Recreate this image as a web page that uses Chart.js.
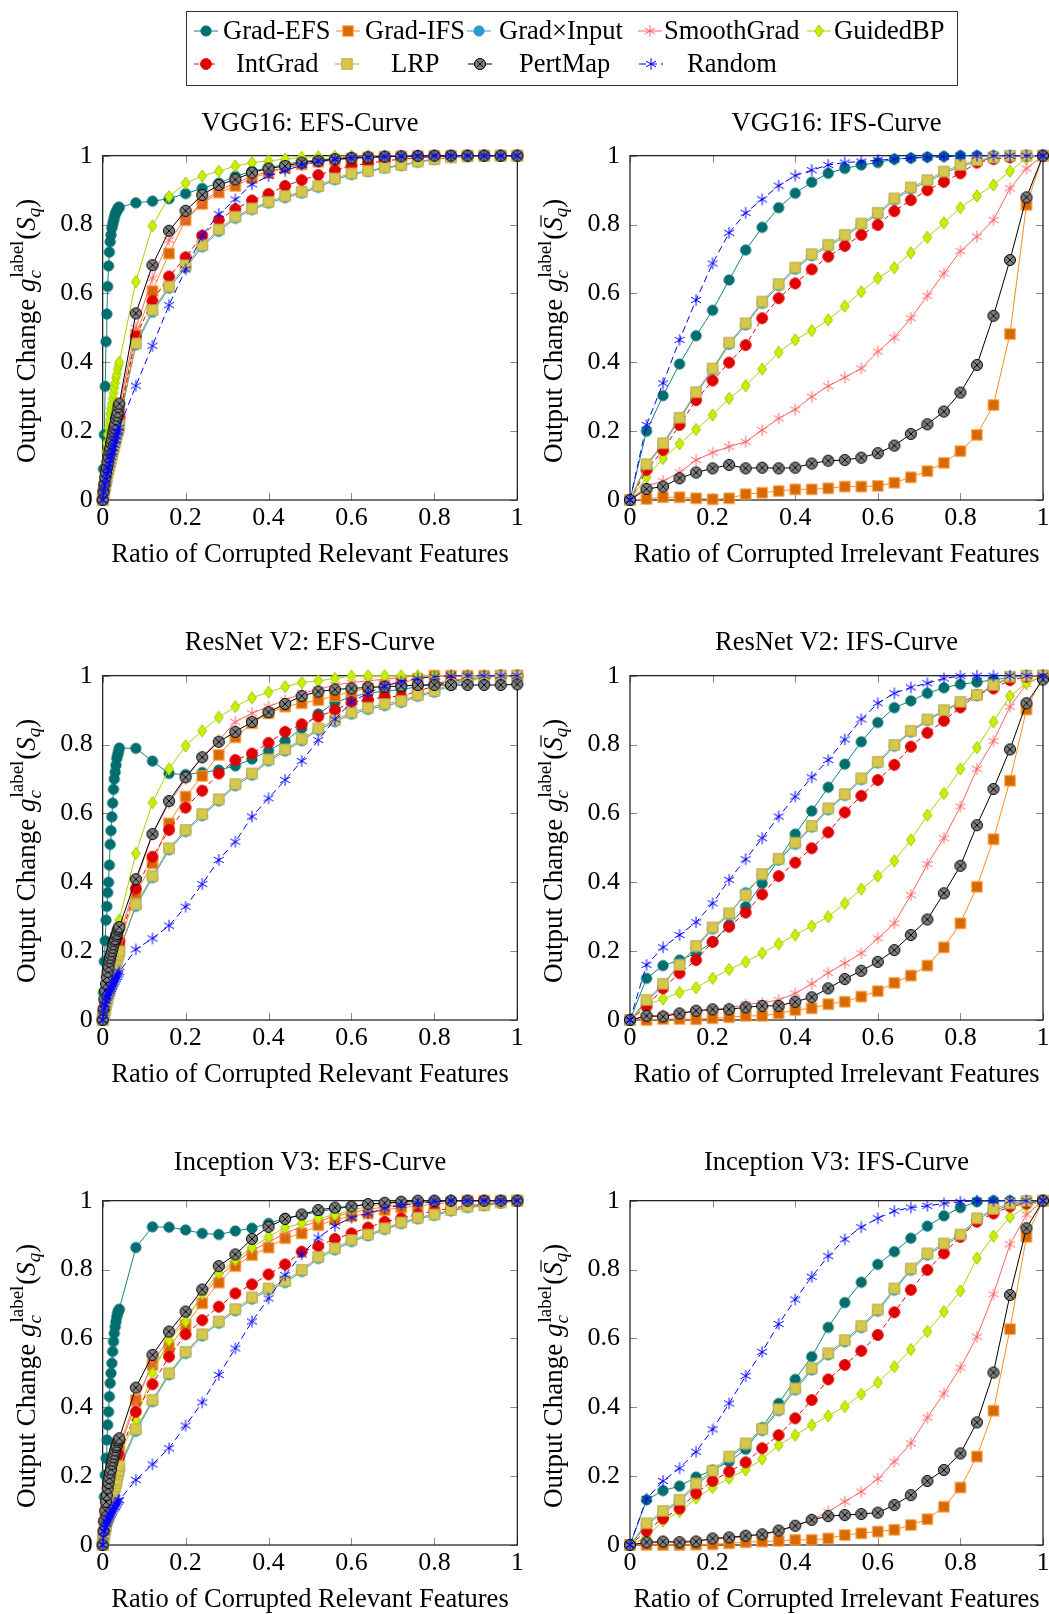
<!DOCTYPE html>
<html>
<head>
<meta charset="utf-8">
<script src="https://cdn.jsdelivr.net/npm/chart.js@4.4.1/dist/chart.umd.min.js"></script>
<style>
  html, body { margin: 0; padding: 0; background: #fff; }
  body { width: 1049px; height: 1614px; position: relative; overflow: hidden; }
  canvas { position: absolute; }
</style>
</head>
<body>
<canvas id="legend" width="1049" height="95" style="left:0;top:0"></canvas>
<script>
// ---- data -------------------------------------------------------------
const methods = ["Grad-EFS", "Grad-IFS", "Grad\u00d7Input", "SmoothGrad", "GuidedBP", "IntGrad", "LRP", "PertMap", "Random"];
const tickValues = [0, 0.2, 0.4, 0.6, 0.8, 1];

// EFS curves: fine steps up to 0.04, then steps of 0.04
const xEFS = [0, 0.002, 0.004, 0.006, 0.008, 0.01, 0.012, 0.014, 0.016, 0.018, 0.02, 0.022, 0.024, 0.026, 0.028, 0.03, 0.032, 0.034, 0.036, 0.038, 0.04,
  0.08, 0.12, 0.16, 0.2, 0.24, 0.28, 0.32, 0.36, 0.4, 0.44, 0.48, 0.52, 0.56, 0.6, 0.64, 0.68, 0.72, 0.76, 0.8, 0.84, 0.88, 0.92, 0.96, 1];
// IFS curves: steps of 0.04
const xIFS = [0, 0.04, 0.08, 0.12, 0.16, 0.2, 0.24, 0.28, 0.32, 0.36, 0.4, 0.44, 0.48, 0.52, 0.56, 0.6, 0.64, 0.68, 0.72, 0.76, 0.8, 0.84, 0.88, 0.92, 0.96, 1];

// VGG16 EFS
const vggEfsGradEfs = [0, 0.09, 0.19, 0.33, 0.46, 0.54, 0.62, 0.68, 0.72, 0.75, 0.77, 0.79, 0.8, 0.81, 0.82, 0.83, 0.835, 0.84, 0.845, 0.85, 0.85,
  0.863, 0.868, 0.875, 0.89, 0.905, 0.92, 0.94, 0.955, 0.965, 0.975, 0.983, 0.988, 0.992, 0.995, 0.997, 0.998, 0.999, 1, 1, 1, 1, 1, 1, 1];
const vggEfsGradIfs = [0, 0.02, 0.04, 0.055, 0.07, 0.085, 0.1, 0.11, 0.12, 0.135, 0.145, 0.155, 0.165, 0.175, 0.185, 0.195, 0.205, 0.215, 0.225, 0.24, 0.25,
  0.48, 0.607, 0.716, 0.813, 0.86, 0.893, 0.912, 0.935, 0.95, 0.965, 0.975, 0.982, 0.988, 0.992, 0.995, 0.997, 0.998, 0.999, 1, 1, 1, 1, 1, 1];
const vggEfsGradInput = [0, 0.015, 0.03, 0.045, 0.06, 0.07, 0.085, 0.095, 0.105, 0.115, 0.125, 0.135, 0.145, 0.155, 0.165, 0.175, 0.185, 0.195, 0.205, 0.22, 0.23,
  0.45, 0.545, 0.615, 0.675, 0.735, 0.78, 0.818, 0.843, 0.862, 0.878, 0.891, 0.908, 0.93, 0.945, 0.954, 0.964, 0.971, 0.981, 0.989, 0.995, 0.998, 1, 1, 1];
const vggEfsSmooth = [0, 0.02, 0.04, 0.06, 0.075, 0.09, 0.105, 0.12, 0.13, 0.145, 0.155, 0.17, 0.18, 0.19, 0.2, 0.21, 0.225, 0.235, 0.245, 0.26, 0.27,
  0.5, 0.644, 0.755, 0.815, 0.865, 0.9, 0.92, 0.94, 0.955, 0.965, 0.975, 0.982, 0.988, 0.992, 0.995, 0.997, 0.998, 0.999, 1, 1, 1, 1, 1, 1];
const vggEfsGuided = [0, 0.04, 0.08, 0.11, 0.14, 0.165, 0.19, 0.21, 0.23, 0.25, 0.265, 0.28, 0.295, 0.31, 0.325, 0.34, 0.355, 0.365, 0.38, 0.39, 0.4,
  0.634, 0.796, 0.881, 0.92, 0.941, 0.955, 0.97, 0.98, 0.985, 0.99, 0.995, 0.997, 0.998, 0.999, 1, 1, 1, 1, 1, 1, 1, 1, 1, 1];
const vggEfsIntGrad = [0, 0.02, 0.035, 0.05, 0.065, 0.08, 0.095, 0.105, 0.115, 0.13, 0.14, 0.15, 0.16, 0.17, 0.18, 0.19, 0.2, 0.21, 0.22, 0.23, 0.24,
  0.474, 0.578, 0.649, 0.705, 0.768, 0.813, 0.845, 0.87, 0.889, 0.912, 0.929, 0.944, 0.958, 0.97, 0.978, 0.985, 0.99, 0.994, 0.997, 0.999, 1, 1, 1, 1];
const vggEfsLrp = [0, 0.015, 0.03, 0.04, 0.055, 0.065, 0.08, 0.09, 0.1, 0.11, 0.12, 0.13, 0.14, 0.15, 0.16, 0.17, 0.18, 0.19, 0.2, 0.21, 0.22,
  0.455, 0.552, 0.62, 0.682, 0.74, 0.786, 0.823, 0.847, 0.866, 0.883, 0.895, 0.912, 0.934, 0.949, 0.956, 0.966, 0.973, 0.983, 0.99, 0.995, 0.998, 1, 1, 1];
const vggEfsPertMap = [0, 0.025, 0.045, 0.065, 0.08, 0.095, 0.11, 0.125, 0.14, 0.15, 0.165, 0.175, 0.19, 0.2, 0.21, 0.22, 0.235, 0.245, 0.255, 0.27, 0.28,
  0.542, 0.682, 0.782, 0.84, 0.886, 0.915, 0.931, 0.951, 0.963, 0.97, 0.98, 0.985, 0.99, 0.993, 0.995, 0.997, 0.998, 0.999, 1, 1, 1, 1, 1, 1];
const vggEfsRandom = [0, 0.02, 0.035, 0.05, 0.06, 0.075, 0.085, 0.095, 0.105, 0.115, 0.125, 0.135, 0.14, 0.15, 0.16, 0.17, 0.175, 0.185, 0.195, 0.2, 0.21,
  0.332, 0.448, 0.566, 0.67, 0.768, 0.83, 0.873, 0.917, 0.941, 0.956, 0.973, 0.983, 0.99, 0.995, 0.997, 0.998, 0.999, 1, 1, 1, 1, 1, 1, 1];

// VGG16 IFS
const vggIfsGradEfs = [0, 0.2, 0.303, 0.395, 0.477, 0.551, 0.639, 0.726, 0.792, 0.849, 0.891, 0.923, 0.949, 0.963, 0.973, 0.98, 0.99, 0.993, 0.996, 0.998, 1, 1, 1, 1, 1, 1];
const vggIfsGradIfs = [0, 0.003, 0.008, 0.008, 0.005, 0.002, 0.005, 0.017, 0.021, 0.026, 0.031, 0.031, 0.034, 0.039, 0.039, 0.041, 0.05, 0.066, 0.084, 0.108, 0.142, 0.189, 0.276, 0.482, 0.857, 1];
const vggIfsGradInput = [0, 0.1, 0.16, 0.234, 0.308, 0.377, 0.452, 0.508, 0.571, 0.622, 0.67, 0.709, 0.736, 0.765, 0.798, 0.829, 0.871, 0.903, 0.924, 0.949, 0.968, 0.983, 0.993, 1, 1, 1];
const vggIfsSmooth = [0, 0.04, 0.055, 0.08, 0.116, 0.138, 0.155, 0.169, 0.203, 0.237, 0.263, 0.3, 0.331, 0.356, 0.382, 0.431, 0.472, 0.528, 0.593, 0.658, 0.723, 0.765, 0.813, 0.905, 0.963, 1];
const vggIfsGuided = [0, 0.066, 0.121, 0.163, 0.205, 0.247, 0.295, 0.332, 0.38, 0.429, 0.465, 0.492, 0.523, 0.563, 0.605, 0.644, 0.675, 0.718, 0.763, 0.805, 0.849, 0.883, 0.915, 0.955, 0.992, 1];
const vggIfsIntGrad = [0, 0.087, 0.145, 0.218, 0.29, 0.347, 0.399, 0.45, 0.528, 0.586, 0.629, 0.67, 0.707, 0.738, 0.77, 0.799, 0.839, 0.871, 0.9, 0.924, 0.949, 0.98, 0.99, 0.995, 1, 1];
const vggIfsLrp = [0, 0.104, 0.165, 0.239, 0.313, 0.382, 0.457, 0.513, 0.576, 0.627, 0.675, 0.714, 0.741, 0.77, 0.803, 0.834, 0.876, 0.908, 0.929, 0.954, 0.973, 0.987, 0.995, 1, 1, 1];
const vggIfsPertMap = [0, 0.032, 0.039, 0.063, 0.08, 0.092, 0.102, 0.092, 0.094, 0.092, 0.094, 0.106, 0.114, 0.116, 0.123, 0.136, 0.158, 0.192, 0.22, 0.257, 0.312, 0.392, 0.535, 0.697, 0.879, 1];
const vggIfsRandom = [0, 0.218, 0.339, 0.465, 0.581, 0.687, 0.776, 0.834, 0.873, 0.913, 0.942, 0.958, 0.973, 0.98, 0.983, 0.987, 0.99, 0.993, 0.995, 0.997, 1, 1, 1, 1, 1, 1];

// ResNet V2 EFS
const resEfsGradEfs = [0, 0.08, 0.17, 0.23, 0.29, 0.33, 0.37, 0.4, 0.45, 0.51, 0.55, 0.59, 0.63, 0.67, 0.7, 0.72, 0.74, 0.76, 0.77, 0.78, 0.79,
  0.789, 0.752, 0.716, 0.713, 0.719, 0.726, 0.738, 0.758, 0.782, 0.81, 0.847, 0.889, 0.922, 0.939, 0.949, 0.955, 0.96, 0.968, 0.977, 0.985, 0.99, 0.995, 1, 1];
const resEfsGradIfs = [0, 0.015, 0.03, 0.045, 0.06, 0.07, 0.085, 0.095, 0.105, 0.115, 0.125, 0.135, 0.145, 0.155, 0.165, 0.175, 0.185, 0.195, 0.2, 0.21, 0.22,
  0.368, 0.455, 0.571, 0.649, 0.709, 0.77, 0.821, 0.862, 0.891, 0.91, 0.92, 0.929, 0.941, 0.954, 0.963, 0.972, 0.98, 0.99, 1, 1, 1, 1, 1, 1];
const resEfsGradInput = [0, 0.015, 0.03, 0.04, 0.05, 0.06, 0.07, 0.08, 0.09, 0.1, 0.11, 0.12, 0.13, 0.14, 0.15, 0.155, 0.165, 0.175, 0.18, 0.19, 0.2,
  0.33, 0.413, 0.494, 0.547, 0.593, 0.636, 0.68, 0.711, 0.752, 0.781, 0.811, 0.842, 0.866, 0.888, 0.902, 0.913, 0.922, 0.94, 0.952, 0.972, 0.987, 0.994, 1, 1];
const resEfsSmooth = [0, 0.02, 0.04, 0.055, 0.07, 0.085, 0.1, 0.11, 0.12, 0.135, 0.145, 0.155, 0.165, 0.175, 0.185, 0.195, 0.205, 0.215, 0.225, 0.23, 0.24,
  0.4, 0.54, 0.63, 0.7, 0.765, 0.813, 0.866, 0.891, 0.91, 0.929, 0.949, 0.96, 0.973, 0.98, 0.985, 0.99, 0.995, 1, 1, 1, 1, 1, 1, 1];
const resEfsGuided = [0, 0.03, 0.055, 0.075, 0.095, 0.11, 0.125, 0.14, 0.155, 0.17, 0.18, 0.19, 0.2, 0.21, 0.22, 0.23, 0.24, 0.25, 0.26, 0.275, 0.29,
  0.484, 0.631, 0.729, 0.796, 0.84, 0.879, 0.91, 0.936, 0.952, 0.968, 0.98, 0.985, 0.992, 0.999, 1, 1, 1, 1, 1, 1, 1, 1, 1, 1];
const resEfsIntGrad = [0, 0.02, 0.035, 0.05, 0.065, 0.075, 0.09, 0.1, 0.11, 0.12, 0.13, 0.14, 0.15, 0.16, 0.17, 0.18, 0.19, 0.2, 0.21, 0.22, 0.23,
  0.382, 0.474, 0.552, 0.617, 0.666, 0.716, 0.755, 0.774, 0.805, 0.837, 0.859, 0.881, 0.9, 0.923, 0.929, 0.939, 0.94, 0.955, 0.97, 0.985, 0.99, 0.995, 1, 1];
const resEfsLrp = [0, 0.01, 0.02, 0.03, 0.045, 0.055, 0.065, 0.075, 0.085, 0.095, 0.105, 0.115, 0.125, 0.135, 0.145, 0.155, 0.165, 0.175, 0.185, 0.19, 0.2,
  0.336, 0.418, 0.499, 0.552, 0.598, 0.641, 0.685, 0.716, 0.757, 0.786, 0.816, 0.847, 0.871, 0.893, 0.907, 0.918, 0.927, 0.944, 0.956, 0.976, 0.99, 0.995, 1, 1];
const resEfsPertMap = [0, 0.03, 0.06, 0.085, 0.105, 0.125, 0.14, 0.155, 0.17, 0.18, 0.19, 0.2, 0.21, 0.22, 0.23, 0.235, 0.245, 0.25, 0.26, 0.265, 0.27,
  0.409, 0.54, 0.636, 0.705, 0.763, 0.808, 0.837, 0.866, 0.894, 0.918, 0.941, 0.954, 0.96, 0.963, 0.966, 0.968, 0.97, 0.973, 0.973, 0.973, 0.973, 0.973, 0.973, 0.975];
const resEfsRandom = [0, 0.02, 0.035, 0.045, 0.055, 0.065, 0.07, 0.075, 0.08, 0.085, 0.09, 0.095, 0.1, 0.105, 0.11, 0.115, 0.12, 0.125, 0.13, 0.135, 0.14,
  0.205, 0.237, 0.274, 0.329, 0.395, 0.465, 0.518, 0.591, 0.644, 0.697, 0.752, 0.813, 0.873, 0.924, 0.949, 0.97, 0.983, 0.992, 0.997, 1, 1, 1, 1, 1];

// ResNet V2 IFS
const resIfsGradEfs = [0, 0.121, 0.158, 0.174, 0.194, 0.227, 0.276, 0.329, 0.397, 0.465, 0.54, 0.607, 0.676, 0.743, 0.808, 0.864, 0.907, 0.927, 0.949, 0.965, 0.975, 0.981, 0.988, 0.995, 1, 1];
const resIfsGradIfs = [0, 0, 0.003, 0.003, 0.002, 0.005, 0.008, 0.012, 0.012, 0.019, 0.029, 0.034, 0.046, 0.053, 0.068, 0.084, 0.108, 0.129, 0.158, 0.211, 0.281, 0.387, 0.525, 0.695, 0.902, 1];
const resIfsGradInput = [0, 0.053, 0.1, 0.165, 0.21, 0.264, 0.305, 0.37, 0.42, 0.465, 0.51, 0.56, 0.61, 0.652, 0.698, 0.746, 0.795, 0.836, 0.87, 0.897, 0.921, 0.942, 0.97, 0.995, 1, 1];
const resIfsSmooth = [0, 0.01, 0.015, 0.02, 0.025, 0.03, 0.035, 0.045, 0.05, 0.058, 0.077, 0.105, 0.137, 0.165, 0.194, 0.237, 0.281, 0.363, 0.453, 0.528, 0.62, 0.729, 0.81, 0.91, 0.976, 1];
const resIfsGuided = [0, 0.044, 0.061, 0.08, 0.094, 0.121, 0.147, 0.169, 0.194, 0.221, 0.247, 0.273, 0.3, 0.339, 0.38, 0.418, 0.462, 0.523, 0.595, 0.658, 0.729, 0.791, 0.866, 0.941, 0.978, 1];
const resIfsIntGrad = [0, 0.039, 0.092, 0.136, 0.174, 0.227, 0.271, 0.312, 0.365, 0.418, 0.457, 0.499, 0.545, 0.603, 0.651, 0.697, 0.741, 0.794, 0.834, 0.869, 0.908, 0.944, 0.963, 0.987, 0.997, 1];
const resIfsLrp = [0, 0.058, 0.105, 0.16, 0.215, 0.269, 0.31, 0.363, 0.424, 0.468, 0.515, 0.564, 0.615, 0.656, 0.702, 0.75, 0.799, 0.84, 0.873, 0.9, 0.924, 0.944, 0.973, 0.997, 1, 1];
const resIfsPertMap = [0, 0.012, 0.01, 0.019, 0.027, 0.031, 0.031, 0.037, 0.041, 0.041, 0.053, 0.066, 0.092, 0.119, 0.143, 0.169, 0.203, 0.247, 0.292, 0.368, 0.448, 0.566, 0.671, 0.786, 0.92, 0.989];
const resIfsRandom = [0, 0.16, 0.211, 0.247, 0.284, 0.339, 0.407, 0.467, 0.528, 0.591, 0.649, 0.705, 0.755, 0.815, 0.873, 0.92, 0.949, 0.966, 0.978, 0.992, 0.999, 1, 1, 1, 1, 1];

// Inception V3 EFS
const incEfsGradEfs = [0, 0.068, 0.14, 0.203, 0.252, 0.305, 0.349, 0.387, 0.431, 0.47, 0.499, 0.528, 0.562, 0.591, 0.615, 0.634, 0.649, 0.663, 0.673, 0.68, 0.685,
  0.864, 0.924, 0.923, 0.915, 0.905, 0.902, 0.912, 0.92, 0.934, 0.949, 0.958, 0.968, 0.976, 0.983, 0.99, 0.993, 0.996, 0.998, 1, 1, 1, 1, 1, 1];
const incEfsGradIfs = [0, 0.03, 0.06, 0.085, 0.105, 0.125, 0.14, 0.155, 0.17, 0.18, 0.195, 0.205, 0.215, 0.225, 0.235, 0.245, 0.255, 0.265, 0.275, 0.285, 0.29,
  0.421, 0.523, 0.574, 0.639, 0.702, 0.762, 0.81, 0.842, 0.864, 0.891, 0.905, 0.929, 0.944, 0.955, 0.963, 0.973, 0.98, 0.985, 0.99, 0.995, 1, 1, 1, 1];
const incEfsGradInput = [0, 0.015, 0.03, 0.045, 0.055, 0.07, 0.08, 0.09, 0.1, 0.11, 0.12, 0.13, 0.14, 0.15, 0.16, 0.17, 0.18, 0.19, 0.2, 0.21, 0.22,
  0.33, 0.416, 0.494, 0.556, 0.607, 0.644, 0.68, 0.714, 0.74, 0.762, 0.794, 0.832, 0.857, 0.881, 0.898, 0.916, 0.933, 0.947, 0.957, 0.97, 0.98, 0.985, 0.993, 1];
const incEfsSmooth = [0, 0.03, 0.055, 0.08, 0.1, 0.12, 0.135, 0.15, 0.165, 0.175, 0.19, 0.2, 0.21, 0.22, 0.23, 0.24, 0.25, 0.26, 0.265, 0.275, 0.28,
  0.41, 0.53, 0.6, 0.66, 0.72, 0.78, 0.82, 0.855, 0.88, 0.905, 0.925, 0.94, 0.955, 0.965, 0.975, 0.982, 0.988, 0.993, 0.996, 1, 1, 1, 1, 1];
const incEfsGuided = [0, 0.02, 0.04, 0.06, 0.075, 0.09, 0.105, 0.12, 0.13, 0.145, 0.155, 0.165, 0.175, 0.185, 0.195, 0.205, 0.215, 0.225, 0.235, 0.25, 0.26,
  0.363, 0.499, 0.595, 0.649, 0.73, 0.79, 0.828, 0.864, 0.895, 0.922, 0.934, 0.949, 0.958, 0.973, 0.983, 0.99, 0.995, 0.998, 1, 1, 1, 1, 1, 1];
const incEfsIntGrad = [0, 0.025, 0.045, 0.065, 0.085, 0.1, 0.115, 0.13, 0.14, 0.155, 0.165, 0.175, 0.185, 0.195, 0.205, 0.215, 0.225, 0.235, 0.24, 0.25, 0.26,
  0.387, 0.467, 0.547, 0.612, 0.653, 0.692, 0.731, 0.757, 0.786, 0.815, 0.852, 0.868, 0.889, 0.905, 0.922, 0.939, 0.949, 0.96, 0.97, 0.978, 0.985, 0.99, 0.995, 1];
const incEfsLrp = [0, 0.015, 0.03, 0.045, 0.055, 0.07, 0.08, 0.09, 0.1, 0.11, 0.12, 0.13, 0.14, 0.15, 0.16, 0.17, 0.18, 0.19, 0.205, 0.215, 0.23,
  0.336, 0.421, 0.499, 0.561, 0.612, 0.649, 0.685, 0.719, 0.745, 0.767, 0.799, 0.837, 0.862, 0.886, 0.902, 0.92, 0.937, 0.951, 0.96, 0.973, 0.983, 0.987, 0.995, 1];
const incEfsPertMap = [0, 0.04, 0.07, 0.1, 0.125, 0.145, 0.165, 0.18, 0.195, 0.21, 0.22, 0.235, 0.245, 0.255, 0.265, 0.275, 0.285, 0.29, 0.3, 0.305, 0.31,
  0.457, 0.552, 0.62, 0.678, 0.742, 0.81, 0.844, 0.889, 0.924, 0.947, 0.96, 0.973, 0.98, 0.983, 0.99, 0.994, 0.997, 1, 1, 1, 1, 1, 1, 1];
const incEfsRandom = [0, 0.025, 0.04, 0.05, 0.06, 0.065, 0.07, 0.075, 0.08, 0.085, 0.09, 0.095, 0.1, 0.105, 0.11, 0.11, 0.115, 0.12, 0.125, 0.13, 0.13,
  0.189, 0.234, 0.281, 0.347, 0.414, 0.494, 0.571, 0.649, 0.716, 0.784, 0.844, 0.893, 0.927, 0.951, 0.963, 0.978, 0.987, 0.992, 0.997, 1, 1, 1, 1, 1];

// Inception V3 IFS
const incIfsGradEfs = [0, 0.131, 0.158, 0.171, 0.197, 0.218, 0.242, 0.278, 0.341, 0.411, 0.481, 0.547, 0.632, 0.704, 0.763, 0.815, 0.852, 0.891, 0.926, 0.956, 0.98, 0.997, 1, 1, 1, 1];
const incIfsGradIfs = [0, 0, 0, 0, 0.001, 0.002, 0.005, 0.008, 0.01, 0.012, 0.015, 0.015, 0.019, 0.029, 0.034, 0.039, 0.044, 0.058, 0.075, 0.111, 0.167, 0.257, 0.39, 0.627, 0.895, 1];
const incIfsGradInput = [0, 0.058, 0.094, 0.126, 0.174, 0.211, 0.252, 0.29, 0.332, 0.39, 0.45, 0.508, 0.552, 0.59, 0.631, 0.679, 0.74, 0.798, 0.842, 0.871, 0.897, 0.944, 0.971, 0.987, 0.995, 1];
const incIfsSmooth = [0, 0.005, 0.008, 0.01, 0.013, 0.017, 0.02, 0.025, 0.03, 0.04, 0.055, 0.073, 0.097, 0.126, 0.155, 0.192, 0.242, 0.295, 0.37, 0.44, 0.515, 0.605, 0.728, 0.873, 0.96, 1];
const incIfsGuided = [0, 0.024, 0.07, 0.097, 0.136, 0.167, 0.194, 0.218, 0.25, 0.29, 0.319, 0.348, 0.375, 0.402, 0.438, 0.472, 0.518, 0.568, 0.62, 0.678, 0.738, 0.833, 0.897, 0.952, 0.983, 1];
const incIfsIntGrad = [0, 0.041, 0.077, 0.106, 0.15, 0.186, 0.213, 0.24, 0.281, 0.319, 0.368, 0.421, 0.481, 0.523, 0.564, 0.61, 0.676, 0.741, 0.799, 0.847, 0.895, 0.939, 0.963, 0.983, 0.992, 1];
const incIfsLrp = [0, 0.063, 0.099, 0.131, 0.179, 0.216, 0.257, 0.295, 0.337, 0.395, 0.455, 0.513, 0.557, 0.595, 0.636, 0.684, 0.745, 0.803, 0.847, 0.876, 0.902, 0.949, 0.976, 0.992, 0.999, 1];
const incIfsPertMap = [0, 0.008, 0.01, 0.008, 0.01, 0.019, 0.022, 0.027, 0.031, 0.042, 0.056, 0.073, 0.084, 0.087, 0.09, 0.094, 0.116, 0.145, 0.186, 0.218, 0.266, 0.356, 0.501, 0.726, 0.92, 1];
const incIfsRandom = [0, 0.134, 0.186, 0.223, 0.271, 0.336, 0.411, 0.491, 0.561, 0.642, 0.713, 0.779, 0.839, 0.888, 0.923, 0.949, 0.97, 0.98, 0.985, 0.992, 0.997, 1, 1, 1, 1, 1];

// ---- styling ----------------------------------------------------------
const FONT = '"Liberation Serif", "DejaVu Serif", serif';

function makeMarker(kind, fill, edge, size) {
  const c = document.createElement('canvas');
  c.width = 16; c.height = 16;
  const g = c.getContext('2d');
  g.translate(8, 8);
  g.lineWidth = 1;
  g.fillStyle = fill;
  g.strokeStyle = edge;
  if (kind === 'circle') {
    g.beginPath(); g.arc(0, 0, size, 0, 2 * Math.PI); g.fill(); g.stroke();
  } else if (kind === 'square') {
    g.fillRect(-size, -size, 2 * size, 2 * size); g.strokeRect(-size, -size, 2 * size, 2 * size);
  } else if (kind === 'diamond') {
    g.beginPath(); g.moveTo(0, -size); g.lineTo(size * 0.72, 0); g.lineTo(0, size); g.lineTo(-size * 0.72, 0); g.closePath();
    g.fill(); g.stroke();
  } else if (kind === 'otimes') {
    g.beginPath(); g.arc(0, 0, size, 0, 2 * Math.PI); g.fill(); g.stroke();
    const d = size * 0.7;
    g.beginPath(); g.moveTo(-d, -d); g.lineTo(d, d); g.moveTo(-d, d); g.lineTo(d, -d); g.stroke();
  } else if (kind === 'asterisk') {
    g.beginPath();
    [90, 30, 150].forEach(a => {
      const t = a * Math.PI / 180;
      g.moveTo(-size * Math.cos(t), -size * Math.sin(t));
      g.lineTo(size * Math.cos(t), size * Math.sin(t));
    });
    g.stroke();
  }
  return c;
}

const styles = [
  { line: '#108484', dash: [], marker: makeMarker('circle', '#006e6e', '#006e6e', 5.1) },
  { line: '#ff8a1c', dash: [], marker: makeMarker('square', '#d66a00', '#ff9d45', 5.2) },
  { line: '#2a9cc8', dash: [], marker: makeMarker('circle', '#2a9cc8', '#2a9cc8', 5.1) },
  { line: '#ff6262', dash: [], marker: makeMarker('asterisk', '#ff6262', '#ff6262', 5.8) },
  { line: '#a8d400', dash: [], marker: makeMarker('diamond', '#c8f000', '#a0c800', 6.1) },
  { line: '#e00000', dash: [5, 3], marker: makeMarker('circle', '#e00000', '#e00000', 5.4) },
  { line: '#aaa050', dash: [], marker: makeMarker('square', '#d6c84a', '#b4a850', 5.2) },
  { line: '#000000', dash: [], marker: makeMarker('otimes', '#808080', '#000000', 5.5) },
  { line: '#0000ff', dash: [7, 4], marker: makeMarker('asterisk', '#0000ff', '#0000ff', 5.8) },
];

// ---- legend -----------------------------------------------------------
(function drawLegend() {
  const g = document.getElementById('legend').getContext('2d');
  g.strokeStyle = '#333'; g.lineWidth = 1;
  g.strokeRect(186.5, 11.5, 771, 74);
  const spots = [
    [206, 223, 31], [348, 365, 31], [479, 499, 31], [650, 664, 31], [819, 834, 31],
    [206, 236, 64], [347, 391, 64], [480, 519, 64], [651, 687, 64],
  ];
  g.font = '26.5px ' + FONT;
  g.textBaseline = 'middle';
  g.fillStyle = '#000';
  methods.forEach((m, i) => {
    const [mx, tx, y] = spots[i];
    const st = styles[i];
    g.save();
    g.strokeStyle = st.line; g.setLineDash(st.dash);
    g.beginPath(); g.moveTo(mx - 12, y); g.lineTo(mx + 12, y); g.stroke();
    g.restore();
    g.drawImage(st.marker, mx - 8, y - 8);
    g.fillText(m, tx, y + 1);
  });
})();

// ---- panels -----------------------------------------------------------
function drawYTitle(ctx, cx, cy, bar) {
  const big = '27px ' + FONT, bigI = 'italic 27px ' + FONT;
  const small = '19px ' + FONT, smallI = 'italic 19px ' + FONT;
  const w = (t, f) => { ctx.font = f; return ctx.measureText(t).width; };
  const stackW = Math.max(w('label', small), w('c', smallI) + 1);
  const parts = [
    { t: 'Output Change ', f: big, dy: 0 },
    { t: 'g', f: bigI, dy: 0 },
    { stack: true },
    { t: '(', f: big, dy: 0 },
    { t: 'S', f: bigI, dy: 0, bar: bar },
    { t: 'q', f: smallI, dy: 5 },
    { t: ')', f: big, dy: 0 },
  ];
  let total = 0;
  parts.forEach(p => { total += p.stack ? stackW + 2 : w(p.t, p.f); });
  ctx.save();
  ctx.translate(cx, cy);
  ctx.rotate(-Math.PI / 2);
  ctx.fillStyle = '#000';
  ctx.textBaseline = 'alphabetic';
  ctx.textAlign = 'left';
  let x = -total / 2;
  parts.forEach(p => {
    if (p.stack) {
      ctx.font = small; ctx.fillText('label', x + 1, -11.5);
      ctx.font = smallI; ctx.fillText('c', x, 6);
      x += stackW + 2;
      return;
    }
    ctx.font = p.f;
    ctx.fillText(p.t, x, p.dy);
    const ww = ctx.measureText(p.t).width;
    if (p.bar) {
      ctx.lineWidth = 1.2; ctx.strokeStyle = '#000';
      ctx.beginPath(); ctx.moveTo(x + 4, -21); ctx.lineTo(x + ww + 2, -21); ctx.stroke();
    }
    x += ww;
  });
  ctx.restore();
}

const framePlugin = {
  id: 'frame',
  beforeDatasetsDraw(chart) {
    const { ctx, chartArea: a, scales: { x, y } } = chart;
    ctx.save();
    ctx.strokeStyle = '#8a8a8a'; ctx.lineWidth = 1;
    ctx.beginPath();
    tickValues.forEach(v => {
      const px = Math.round(x.getPixelForValue(v)) + 0.5;
      const py = Math.round(y.getPixelForValue(v)) + 0.5;
      ctx.moveTo(px, a.bottom); ctx.lineTo(px, a.bottom - 7);
      ctx.moveTo(px, a.top); ctx.lineTo(px, a.top + 7);
      ctx.moveTo(a.left, py); ctx.lineTo(a.left + 7, py);
      ctx.moveTo(a.right, py); ctx.lineTo(a.right - 7, py);
    });
    ctx.stroke();
    ctx.strokeStyle = '#000'; ctx.lineWidth = 1.1;
    ctx.strokeRect(a.left, a.top, a.right - a.left, a.bottom - a.top);
    ctx.restore();
  },
  afterDraw(chart, args, opts) {
    const { ctx, chartArea: a } = chart;
    const cx = (a.left + a.right) / 2;
    ctx.save();
    ctx.fillStyle = '#000';
    ctx.font = '26.5px ' + FONT;
    ctx.textAlign = 'center';
    ctx.textBaseline = 'middle';
    ctx.fillText(opts.title, cx, a.top - opts.titleGap);
    ctx.fillText(opts.xTitle, cx, a.bottom + 55);
    ctx.restore();
    drawYTitle(ctx, a.left - 68, (a.top + a.bottom) / 2 + 3, opts.bar);
  },
};

const panels = [
  { left: 0, top: 95, w: 524, h: 485, gap: 32, title: 'VGG16: EFS-Curve', xTitle: 'Ratio of Corrupted Relevant Features', bar: false, xs: xEFS,
    ys: [vggEfsGradEfs, vggEfsGradIfs, vggEfsGradInput, vggEfsSmooth, vggEfsGuided, vggEfsIntGrad, vggEfsLrp, vggEfsPertMap, vggEfsRandom] },
  { left: 524, top: 95, w: 525, h: 485, gap: 32, title: 'VGG16: IFS-Curve', xTitle: 'Ratio of Corrupted Irrelevant Features', bar: true, xs: xIFS,
    ys: [vggIfsGradEfs, vggIfsGradIfs, vggIfsGradInput, vggIfsSmooth, vggIfsGuided, vggIfsIntGrad, vggIfsLrp, vggIfsPertMap, vggIfsRandom] },
  { left: 0, top: 615, w: 524, h: 485, gap: 33, title: 'ResNet V2: EFS-Curve', xTitle: 'Ratio of Corrupted Relevant Features', bar: false, xs: xEFS,
    ys: [resEfsGradEfs, resEfsGradIfs, resEfsGradInput, resEfsSmooth, resEfsGuided, resEfsIntGrad, resEfsLrp, resEfsPertMap, resEfsRandom] },
  { left: 524, top: 615, w: 525, h: 485, gap: 33, title: 'ResNet V2: IFS-Curve', xTitle: 'Ratio of Corrupted Irrelevant Features', bar: true, xs: xIFS,
    ys: [resIfsGradEfs, resIfsGradIfs, resIfsGradInput, resIfsSmooth, resIfsGuided, resIfsIntGrad, resIfsLrp, resIfsPertMap, resIfsRandom] },
  { left: 0, top: 1140, w: 524, h: 474, gap: 38, title: 'Inception V3: EFS-Curve', xTitle: 'Ratio of Corrupted Relevant Features', bar: false, xs: xEFS,
    ys: [incEfsGradEfs, incEfsGradIfs, incEfsGradInput, incEfsSmooth, incEfsGuided, incEfsIntGrad, incEfsLrp, incEfsPertMap, incEfsRandom] },
  { left: 524, top: 1140, w: 525, h: 474, gap: 38, title: 'Inception V3: IFS-Curve', xTitle: 'Ratio of Corrupted Irrelevant Features', bar: true, xs: xIFS,
    ys: [incIfsGradEfs, incIfsGradIfs, incIfsGradInput, incIfsSmooth, incIfsGuided, incIfsIntGrad, incIfsLrp, incIfsPertMap, incIfsRandom] },
];

const tickFont = { family: FONT, size: 26 };
const tickLabel = v => String(Math.round(v * 10) / 10);

panels.forEach(p => {
  const cv = document.createElement('canvas');
  cv.width = p.w; cv.height = p.h;
  cv.style.left = p.left + 'px'; cv.style.top = p.top + 'px';
  document.body.appendChild(cv);
  const isLeft = p.left === 0;
  const yWidth = isLeft ? 102.7 : 106;
  const padRight = isLeft ? 6.7 : 4;
  const xHeight = 40;
  const padBottom = p.h - 405 - xHeight;

  new Chart(cv, {
    type: 'line',
    data: {
      datasets: methods.map((m, i) => ({
        label: m,
        data: p.xs.map((xv, k) => ({ x: xv, y: p.ys[i][k] })),
        borderColor: styles[i].line,
        borderWidth: 1,
        borderDash: styles[i].dash,
        pointStyle: styles[i].marker,
        pointRadius: 5,
        tension: 0,
        fill: false,
        clip: false,
        order: methods.length - i,
      })),
    },
    options: {
      responsive: false,
      animation: false,
      devicePixelRatio: 1,
      events: [],
      layout: { padding: { left: 0, right: padRight, top: 60.7, bottom: padBottom } },
      plugins: {
        legend: { display: false },
        tooltip: { enabled: false },
        frame: { title: p.title, xTitle: p.xTitle, bar: p.bar, titleGap: p.gap },
      },
      scales: {
        x: {
          type: 'linear', min: 0, max: 1,
          grid: { display: false, drawTicks: false },
          border: { display: false },
          afterBuildTicks: s => { s.ticks = tickValues.map(v => ({ value: v })); },
          ticks: { color: '#000', font: tickFont, padding: 3, maxRotation: 0, autoSkip: false, callback: tickLabel },
          afterFit: s => { s.height = xHeight; s.paddingLeft = 0; s.paddingRight = 0; },
        },
        y: {
          type: 'linear', min: 0, max: 1,
          grid: { display: false, drawTicks: false },
          border: { display: false },
          afterBuildTicks: s => { s.ticks = tickValues.map(v => ({ value: v })); },
          ticks: { color: '#000', font: tickFont, padding: 10, autoSkip: false, callback: tickLabel },
          afterFit: s => { s.width = yWidth; s.paddingTop = 0; s.paddingBottom = 0; },
        },
      },
    },
    plugins: [framePlugin],
  });
});
</script>
</body>
</html>
